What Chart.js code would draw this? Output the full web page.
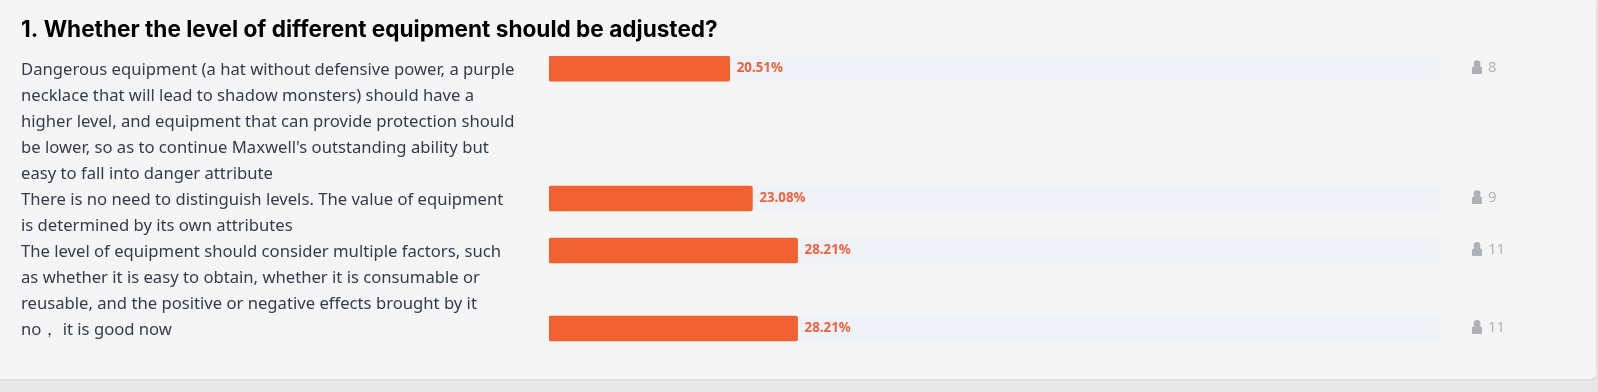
<!DOCTYPE html>
<html>
<head>
<meta charset="utf-8">
<script src="https://cdn.jsdelivr.net/npm/chart.js@4"></script>
<style>
    html, body { margin: 0; padding: 0; background: #e8e8e8; overflow: hidden; }
    #card { position: absolute; left: 0; top: 0; width: 1596px; height: 379px; background: #f5f5f5; border-radius: 0 0 5px 0; box-shadow: 0 1px 3px rgba(0,0,0,0.08); }
    #chart { position: absolute; left: 0; top: 0; }
</style>
</head>
<body>
<div id="card"></div>
<canvas id="chart" width="1598" height="392"></canvas>
<script>
// --- DATA ---
const TITLE = '1. Whether the level of different equipment should be adjusted?';
const categories = [
    ['Dangerous equipment (a hat without defensive power, a purple',
     'necklace that will lead to shadow monsters) should have a',
     'higher level, and equipment that can provide protection should',
     "be lower, so as to continue Maxwell's outstanding ability but",
     'easy to fall into danger attribute'],
    ['There is no need to distinguish levels. The value of equipment',
     'is determined by its own attributes'],
    ['The level of equipment should consider multiple factors, such',
     'as whether it is easy to obtain, whether it is consumable or',
     'reusable, and the positive or negative effects brought by it'],
    ['no\uFF0C it is good now']
];
const percents = [20.51, 23.08, 28.21, 28.21];
const counts = [8, 9, 11, 11];
const AXIS_MAX = 101;

// rows are as tall as their text, so the y axis counts text lines
const rowStarts = [];
let totalLines = 0;
categories.forEach(lines => {
    rowStarts.push(totalLines);
    totalLines += lines.length;
});
const barRows = rowStarts.map(start => start + 0.48);
const labelRows = categories.map((lines, i) => rowStarts[i] + lines.length / 2 + 0.03);

// --- LABELS NEXT TO THE BARS ---
const rowLabels = {
    id: 'rowLabels',
    afterDatasetsDraw(chart) {
        const ctx = chart.ctx;
        const bars = chart.getDatasetMeta(0).data;
        ctx.save();
        ctx.textBaseline = 'middle';
        bars.forEach((bar, i) => {
            ctx.textAlign = 'left';
            ctx.fillStyle = '#f2603a';
            ctx.font = 'bold 13.3px "Noto Sans"';
            ctx.fillText(percents[i].toFixed(2) + '%', bar.x + 7, bar.y - 0.5);

            // person icon
            const px = 1477;
            ctx.fillStyle = '#aeb1b5';
            ctx.beginPath();
            ctx.arc(px, bar.y - 5, 3.4, 0, Math.PI * 2);
            ctx.fill();
            ctx.beginPath();
            ctx.roundRect(px - 5, bar.y - 2.5, 10, 8, [3, 3, 1, 1]);
            ctx.fill();

            ctx.fillStyle = '#b4b4b4';
            ctx.font = '15px "Noto Sans"';
            ctx.fillText(counts[i], 1488, bar.y - 1);
        });
        ctx.restore();
    }
};

// --- CHART ---
new Chart(document.getElementById('chart').getContext('2d'), {
    type: 'bar',
    data: {
        datasets: [
            {
                data: percents.map((p, i) => ({ x: p, y: barRows[i] })),
                backgroundColor: '#f26131',
                borderRadius: 2,
                borderSkipped: false,
                barThickness: 25,
                grouped: false,
                order: 1
            },
            {
                data: barRows.map(y => ({ x: AXIS_MAX, y: y })),
                backgroundColor: '#eff3f7',
                borderRadius: 2,
                borderSkipped: false,
                barThickness: 25,
                grouped: false,
                order: 2
            }
        ]
    },
    options: {
        indexAxis: 'y',
        responsive: false,
        animation: false,
        layout: { padding: { left: 21, right: 159, top: 0, bottom: 50 } },
        plugins: {
            legend: { display: false },
            tooltip: { enabled: false },
            title: {
                display: true,
                text: TITLE,
                align: 'start',
                color: '#000000',
                font: { family: 'Inter', size: 22.6, weight: 'bold' },
                padding: { top: 17, bottom: 12 }
            }
        },
        scales: {
            x: { type: 'linear', display: false, min: 0, max: AXIS_MAX },
            y: {
                type: 'linear',
                reverse: true,
                offset: false,
                min: 0,
                max: totalLines,
                grid: { display: false },
                border: { display: false },
                afterBuildTicks: scale => { scale.ticks = labelRows.map(v => ({ value: v })); },
                afterFit: scale => {
                    scale.width = 549 - 21;
                    // the tall first and last labels must not push the plot area in
                    scale.paddingTop = 0;
                    scale.paddingBottom = 0;
                },
                ticks: {
                    autoSkip: false,
                    crossAlign: 'far',
                    color: '#333c4a',
                    padding: 0,
                    font: { family: '"Noto Sans"', size: 16.65, lineHeight: 26 / 16.65 },
                    callback: (value, index) => categories[index]
                }
            }
        }
    },
    plugins: [rowLabels]
});
</script>
</body>
</html>
